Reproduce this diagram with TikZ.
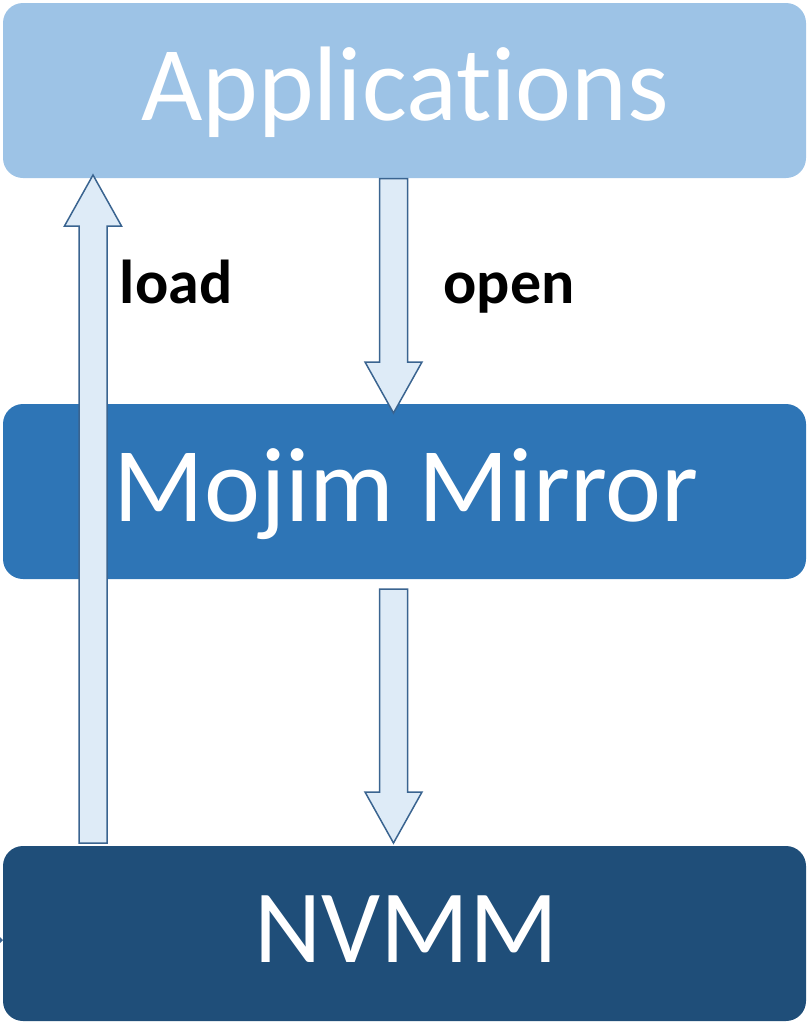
\documentclass[tikz,border=0pt]{standalone}
\usepackage{fontspec}
\setmainfont{Carlito}[Ligatures=NoCommon]
\usetikzlibrary{calc}
\definecolor{appblue}{HTML}{9DC3E6}
\definecolor{midblue}{HTML}{2E75B6}
\definecolor{deepblue}{HTML}{1F4E79}
\definecolor{arrowfill}{HTML}{DEEBF7}
\definecolor{arrowedge}{HTML}{3A6490}
\tikzset{
  layer/.style={rectangle, rounded corners=20pt, minimum width=803pt, minimum height=175pt, inner sep=0pt, outer sep=0pt},
  layertext/.style={anchor=base, text=white, inner sep=0pt, font=\fontsize{106}{120}\selectfont},
  opname/.style={anchor=base, text=black, inner sep=0pt, font=\bfseries\fontsize{62}{70}\selectfont},
  blockarrow/.style={fill=arrowfill, draw=arrowedge, line width=1.5pt, line join=miter},
}
% hollow block arrow from #1 to #2 (shaft half width 14, head half width 28.5, head length 51)
\newcommand\blockarrow[2]{%
  \draw[blockarrow]
    ($(#1)!14pt!90:(#2)$) --
    ($($(#2)!51pt!(#1)$)!14pt!-90:(#1)$) --
    ($($(#2)!51pt!(#1)$)!28.5pt!-90:(#1)$) --
    (#2) --
    ($($(#2)!51pt!(#1)$)!28.5pt!90:(#1)$) --
    ($($(#2)!51pt!(#1)$)!14pt!90:(#1)$) --
    ($(#1)!14pt!-90:(#2)$) -- cycle;}
\begin{document}
\begin{tikzpicture}[x=1pt, y=-1pt]
  \useasboundingbox (0,0) rectangle (808,1023);

  % the three layers
  \node[layer, fill=appblue]  (app)   at (404.5, 90.5) {};
  \node[layer, fill=midblue]  (mojim) at (404.5, 491.5) {};
  \node[layer, fill=deepblue] (nvmm)  at (404.5, 933.5) {};

  \node[layertext] (apptext)   at (405, 120) {Applications};
  \node[layertext] (mojimtext) at (406, 521) {Mojim Mirror};
  \node[layertext, font=\fontsize{104}{118}\selectfont] (nvmmtext) at (406, 962) {NVMM};

  % columns of the arrows
  \coordinate (lx) at (93, 0);
  \coordinate (ox) at (393.5, 0);

  \coordinate (loadS) at ([yshift=3pt]nvmm.north -| lx);
  \coordinate (loadE) at ([yshift=3pt]app.south -| lx);
  \coordinate (openS) at ([yshift=-0.5pt]app.south -| ox);
  \coordinate (openE) at ([yshift=-9pt]mojim.north -| ox);
  \coordinate (syncS) at ([yshift=-10pt]mojim.south -| ox);
  \coordinate (syncE) at ([yshift=3pt]nvmm.north -| ox);

  \blockarrow{loadS}{loadE}
  \blockarrow{openS}{openE}
  \blockarrow{syncS}{syncE}

  \node[opname] (load) at (176, 303) {load};
  \node[opname] (open) at (509, 303) {open};

  % small tick on the left edge of the bottom layer
  \fill[arrowedge] (0,937) -- (3,940) -- (0,943) -- cycle;
\end{tikzpicture}
\end{document}
